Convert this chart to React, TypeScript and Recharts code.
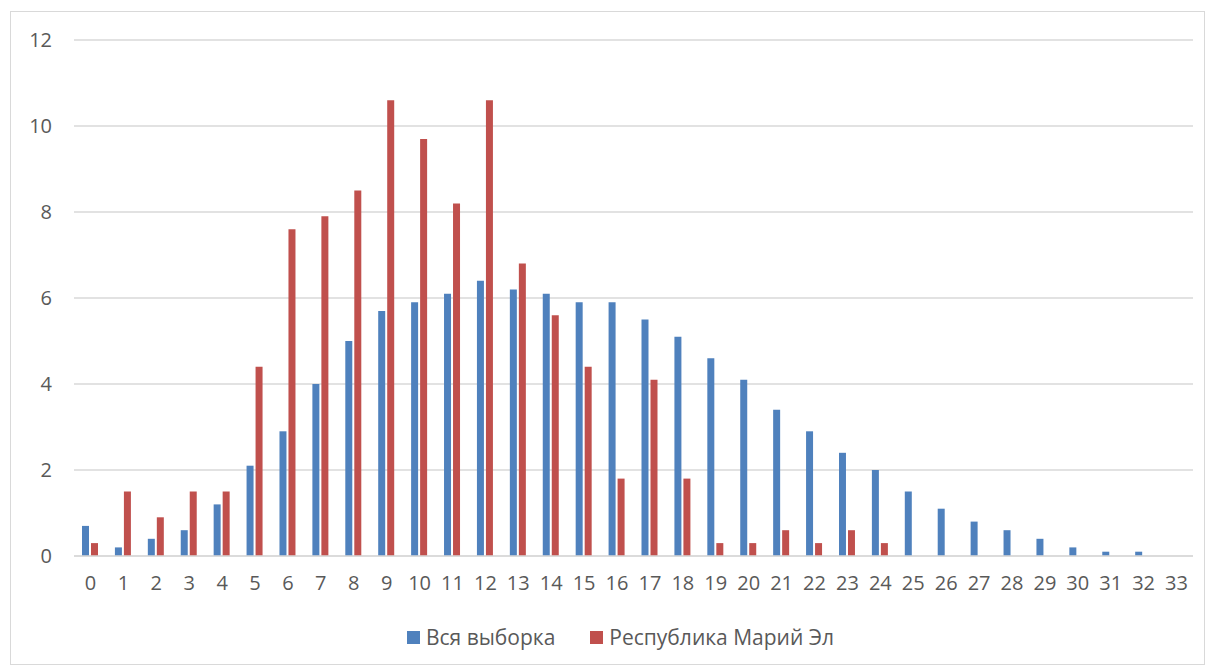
import React from 'react';
import { BarChart, Bar, XAxis, YAxis, CartesianGrid, Legend } from 'recharts';

const categories = [
  '0', '1', '2', '3', '4', '5', '6', '7', '8', '9', '10', '11', '12', '13', '14', '15', '16',
  '17', '18', '19', '20', '21', '22', '23', '24', '25', '26', '27', '28', '29', '30', '31', '32', '33'
];
const allSample = [
  0.7, 0.2, 0.4, 0.6, 1.2, 2.1, 2.9, 4.0, 5.0, 5.7, 5.9, 6.1, 6.4, 6.2, 6.1, 5.9, 5.9,
  5.5, 5.1, 4.6, 4.1, 3.4, 2.9, 2.4, 2.0, 1.5, 1.1, 0.8, 0.6, 0.4, 0.2, 0.1, 0.1, 0
];
const mariEl = [
  0.3, 1.5, 0.9, 1.5, 1.5, 4.4, 7.6, 7.9, 8.5, 10.6, 9.7, 8.2, 10.6, 6.8, 5.6, 4.4, 1.8,
  4.1, 1.8, 0.3, 0.3, 0.6, 0.3, 0.6, 0.3, 0, 0, 0, 0, 0, 0, 0, 0, 0
];
const yTicks = [0, 2, 4, 6, 8, 10, 12];

const seriesNames = ['Вся выборка', 'Республика Марий Эл'];
const BLUE = '#4F81BD';
const RED = '#C0504D';
const TEXT = '#595959';
const GRID = '#d9d9d9';

const data = categories.map((c, i) => ({
  name: c,
  all: allSample[i],
  mari: mariEl[i]
}));

const font = '"Open Sans", "Liberation Sans", sans-serif';

const LegendContent = () => (
  <div style={{ display: 'flex', justifyContent: 'center', alignItems: 'center', height: 30, fontFamily: font, fontSize: 21, color: TEXT }}>
    <span style={{ display: 'inline-block', width: 13, height: 13, background: BLUE, marginRight: 6 }} />
    <span style={{ marginRight: 35 }}>{seriesNames[0]}</span>
    <span style={{ display: 'inline-block', width: 13, height: 13, background: RED, marginRight: 6 }} />
    <span>{seriesNames[1]}</span>
  </div>
);

export default function App() {
  return (
    <div style={{ position: 'absolute', left: 0, top: 0, width: 1211, height: 670, background: '#fff' }}>
      <div style={{ position: 'absolute', left: 10, top: 11, width: 1195, height: 654, border: `1px solid ${GRID}`, boxSizing: 'border-box' }} />
      <BarChart
        width={1211}
        height={670}
        data={data}
        margin={{ top: 40, right: 18, bottom: 34, left: 0 }}
        barSize={7}
        barGap={2}
      >
        <CartesianGrid vertical={false} stroke={GRID} strokeWidth={1.5} />
        <XAxis
          dataKey="name"
          height={50}
          interval={0}
          tickLine={false}
          axisLine={{ stroke: GRID, strokeWidth: 1.5 }}
          tickMargin={14}
          tick={{ fontSize: 20, fill: TEXT, fontFamily: font }}
        />
        <YAxis
          width={74}
          domain={[0, 12]}
          ticks={yTicks}
          tickLine={false}
          axisLine={false}
          tickMargin={16}
          tick={{ fontSize: 20, fill: TEXT, fontFamily: font }}
        />
        <Legend verticalAlign="bottom" wrapperStyle={{ bottom: 18, left: 24, height: 30 }} content={LegendContent} />
        <Bar dataKey="all" name={seriesNames[0]} fill={BLUE} isAnimationActive={false} />
        <Bar dataKey="mari" name={seriesNames[1]} fill={RED} isAnimationActive={false} />
      </BarChart>
    </div>
  );
}
